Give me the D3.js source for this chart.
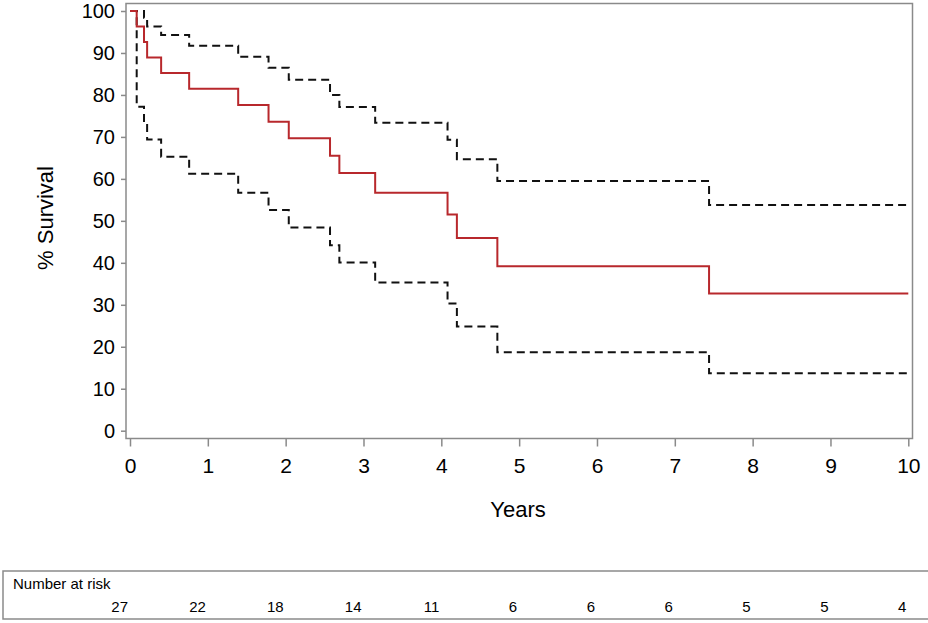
<!DOCTYPE html>
<html>
<head>
<meta charset="utf-8">
<script src="https://cdn.jsdelivr.net/npm/d3@7"></script>
<style>
    body { margin: 0; background: #fff; }
    svg text { font-family: "Liberation Sans", Arial, sans-serif; fill: #000; }
    .axis .domain { display: none; }
    .axis line { stroke: #8a8a8a; stroke-width: 1.5; }
</style>
</head>
<body>
<svg id="km" width="928" height="623"></svg>
<script>
// tempos dos eventos (anos) e curvas
const eventTimes = [0, 0.086, 0.18, 0.22, 0.40, 0.76, 1.39, 1.78, 2.04, 2.57, 2.69, 3.15, 4.08, 4.20, 4.72, 7.44]
const survival   = [100, 96.3, 92.6, 88.9, 85.2, 81.5, 77.6, 73.6, 69.7, 65.5, 61.4, 56.7, 51.5, 45.9, 39.2, 32.7]
const upperCI    = [100, 100, 98.4, 96.3, 94.3, 91.7, 89.1, 86.5, 83.6, 80.0, 77.1, 73.4, 69.3, 64.7, 59.5, 53.8]
const lowerCI    = [100, 77.2, 73.4, 69.4, 65.3, 61.2, 56.7, 52.6, 48.4, 44.2, 40.1, 35.3, 30.3, 24.8, 18.7, 13.7]
const endTime = 10

const xTicks = [0, 1, 2, 3, 4, 5, 6, 7, 8, 9, 10]
const yTicks = [0, 10, 20, 30, 40, 50, 60, 70, 80, 90, 100]
const atRisk = [27, 22, 18, 14, 11, 6, 6, 6, 5, 5, 4]

function serie(valores) {
    const pts = eventTimes.map((t, i) => ({ t: t, v: valores[i] }))
    pts.push({ t: endTime, v: valores[valores.length - 1] })
    return pts
}

function km_chart(div) {
    const svg = d3.select(div)

    const frame = { left: 126, right: 912.5, top: 3.5, bottom: 438.5 }

    const xScale = d3.scaleLinear()
        .domain([0, 10])
        .range([130, 908.3])

    const yScale = d3.scaleLinear()
        .domain([0, 100])
        .range([430.7, 11])

    /*moldura*/
    svg.append('rect')
        .attr('x', frame.left)
        .attr('y', frame.top)
        .attr('width', frame.right - frame.left)
        .attr('height', frame.bottom - frame.top)
        .attr('fill', 'none')
        .attr('stroke', '#8a8a8a')
        .attr('stroke-width', 1.5)

    /*eixo x*/
    svg.append('g')
        .attr('class', 'axis')
        .attr('transform', `translate(0, ${frame.bottom})`)
        .call(d3.axisBottom(xScale)
            .tickValues(xTicks)
            .tickSize(8)
            .tickPadding(12)
            .tickFormat(d3.format('d')))
        .selectAll('text')
        .style('font-size', '21px')

    /*eixo y*/
    svg.append('g')
        .attr('class', 'axis')
        .attr('transform', `translate(${frame.left}, 0)`)
        .call(d3.axisLeft(yScale)
            .tickValues(yTicks)
            .tickSize(5)
            .tickPadding(6)
            .tickFormat(d3.format('d')))
        .selectAll('text')
        .style('font-size', '20px')

    /*titulos*/
    svg.append('text')
        .attr('x', 518)
        .attr('y', 517)
        .attr('text-anchor', 'middle')
        .style('font-size', '22px')
        .text('Years')

    svg.append('text')
        .attr('transform', 'translate(53, 218) rotate(-90)')
        .attr('text-anchor', 'middle')
        .style('font-size', '22px')
        .text('% Survival')

    const line = d3.line()
        .curve(d3.curveStepAfter)
        .x((d) => xScale(d.t))
        .y((d) => yScale(d.v))

    /*intervalos de confianca*/
    ;[upperCI, lowerCI].forEach(function (ci) {
        svg.append('path')
            .datum(serie(ci))
            .attr('d', line)
            .attr('fill', 'none')
            .attr('stroke', '#111')
            .attr('stroke-width', 2)
            .attr('stroke-dasharray', '8,5')
    })

    /*curva de sobrevida*/
    svg.append('path')
        .datum(serie(survival))
        .attr('d', line)
        .attr('fill', 'none')
        .attr('stroke', '#b8282c')
        .attr('stroke-width', 2)

    /*tabela numero em risco*/
    svg.append('rect')
        .attr('x', 3)
        .attr('y', 571)
        .attr('width', 930)
        .attr('height', 48)
        .attr('fill', 'none')
        .attr('stroke', '#8a8a8a')
        .attr('stroke-width', 1.5)

    svg.append('text')
        .attr('x', 13)
        .attr('y', 589)
        .style('font-size', '15px')
        .text('Number at risk')

    svg.selectAll('.risk')
        .data(atRisk)
        .enter()
        .append('text')
        .attr('class', 'risk')
        .attr('x', (d, i) => xScale(xTicks[i]) - 2)
        .attr('y', 612)
        .attr('text-anchor', 'end')
        .style('font-size', '15px')
        .text((d) => d)
}

km_chart('#km')
</script>
</body>
</html>
